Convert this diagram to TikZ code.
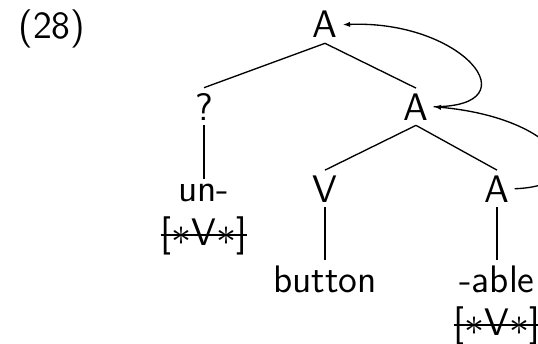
\documentclass[tikz,border=0pt]{standalone}
\usepackage{amsmath,amssymb}
\usepackage{tikz}
\usetikzlibrary{positioning}
\usetikzlibrary{arrows.meta}
\renewcommand{\familydefault}{\sfdefault}
\newcommand{\struck}[1]{\setbox0\hbox{#1}\rlap{\rule[0.26em]{\wd0}{0.55pt}}\box0}

\begin{document}
\begin{tikzpicture} [
    every node/.style = {anchor=base, inner sep=1.4pt, font=\fontsize{11.5}{13.8}\selectfont},
    edge from parent path = {(\tikzparentnode.south) -- (\tikzchildnode.north)},
    level distance=28.6pt,
    level 1/.style={sibling distance=63.6pt},
    level 2/.style={sibling distance=51.6pt},
    level 3/.style={level distance=31pt},
    percolate/.style={-{Latex[length=2.2pt,width=1.6pt]}}
]
    \useasboundingbox (-97.5pt,11.4pt) rectangle (63.9pt,-91.8pt);
    \clip (-97.5pt,11.4pt) rectangle (63.9pt,-91.8pt);

    \node (exnum) at (-81.9pt,-0.3pt) {(28)};

    \node (a1) {A}
    child [xshift=-4.5pt] {
        node (q) {?}
        child { node (un) {un-} }
    }
    child [xshift=-4.5pt] {
        node (a2) {A}
        child [xshift=-1.5pt] {
            node (v) {V}
            child { node (button) {button} }
        }
        child [xshift=-1.5pt] {
            node (a3) {A}
            child { node (able) {-able} }
        }
    };

    \node [below=1.2pt of un] (unfeat) {\struck{[$\ast$V$\ast$]}};
    \node [below=1.2pt of able] (ablefeat) {\struck{[$\ast$V$\ast$]}};

    \draw[percolate] (a2.east) .. controls +(30pt,0pt) and +(36pt,1.5pt) .. (a1.east);
    \draw[percolate] (a3.east) .. controls +(25.5pt,0.9pt) and +(37.5pt,-3.3pt) .. (a2.east);
\end{tikzpicture}
\end{document}
